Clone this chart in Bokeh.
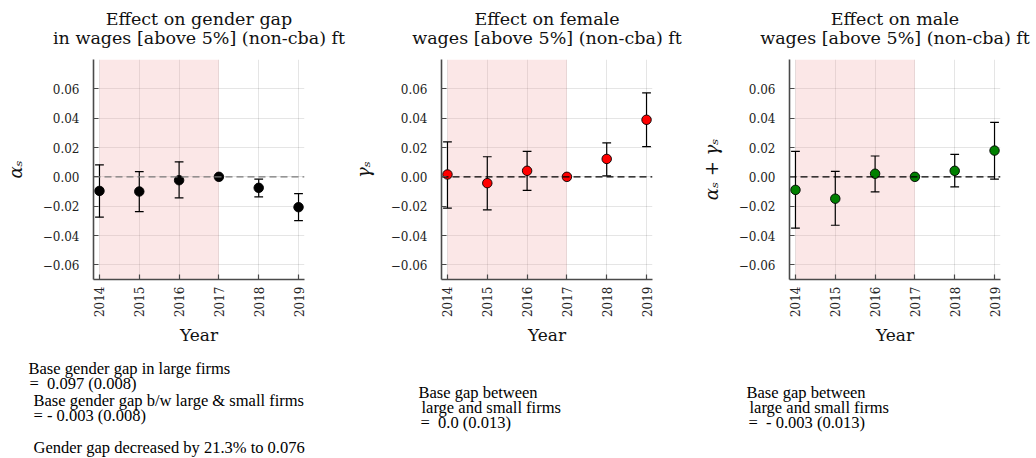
import numpy as np
from bokeh.plotting import figure
from bokeh.layouts import row, column
from bokeh.models import BoxAnnotation, Span, FixedTicker
from bokeh.core.properties import value
from bokeh.embed import file_html
from bokeh.resources import INLINE

# ---------------- data ----------------
years = [2014, 2015, 2016, 2017, 2018, 2019]

gap_est = [-0.0096, -0.0100, -0.0023, 0.0, -0.0075, -0.0207]
gap_lo = [-0.0275, -0.0237, -0.0143, 0.0, -0.0136, -0.0298]
gap_hi = [0.0082, 0.0036, 0.0102, 0.0, -0.0016, -0.0114]

fem_est = [0.0016, -0.0043, 0.0041, 0.0, 0.0122, 0.0389]
fem_lo = [-0.0213, -0.0225, -0.0092, 0.0, 0.0007, 0.0206]
fem_hi = [0.0238, 0.0137, 0.0174, 0.0, 0.0231, 0.0572]

male_est = [-0.0089, -0.0149, 0.0021, 0.0, 0.0041, 0.0179]
male_lo = [-0.0350, -0.0330, -0.0103, 0.0, -0.0069, -0.0016]
male_hi = [0.0174, 0.0037, 0.0142, 0.0, 0.0153, 0.0371]

y_ticks = [-0.06, -0.04, -0.02, 0.0, 0.02, 0.04, 0.06]
y_tick_labels = ["\u22120.06", "\u22120.04", "\u22120.02", "0.00", "0.02", "0.04", "0.06"]

titles = [
    ["Effect on gender gap", "in wages [above 5%] (non-cba) ft"],
    ["Effect on female", "wages [above 5%] (non-cba) ft"],
    ["Effect on male", "wages [above 5%] (non-cba) ft"],
]
ylabels = ["\u03b1\u209b", "\u03b3\u209b", "\u03b1\u209b + \u03b3\u209b"]

# note text, with (x, y) page-pixel anchors of each line
notes = [
    [("Base gender gap in large firms", 28, 368),
     ("=\u00a0 0.097 (0.008)", 29, 383),
     ("Base gender gap b/w large & small firms", 33, 400),
     ("= - 0.003 (0.008)", 33, 415),
     ("Gender gap decreased by 21.3% to 0.076", 33, 447)],
    [("Base gap between", 418, 392),
     ("large and small firms", 421, 407),
     ("=\u00a0 0.0 (0.013)", 420, 422)],
    [("Base gap between", 746, 392),
     ("large and small firms", 749, 407),
     ("=\u00a0 - 0.003 (0.013)", 748, 422)],
]

series = [
    (gap_est, gap_lo, gap_hi, "black", "#7a7a7a"),
    (fem_est, fem_lo, fem_hi, "#ff0000", "black"),
    (male_est, male_lo, male_hi, "#008000", "black"),
]

# ---------------- layout constants ----------------
X0, X1 = 2013.85, 2019.15
Y0, Y1 = -0.07, 0.08
FL, FW, FH = 93, 211, 220
TOP_H = 51          # title strip height
PT = 8              # panel top border  (frame top at 59)
PH = 305            # panel figure height
NH = 458 - TOP_H - PH
widths = [348, 348, 340]
offsets = [0, 348, 696]

SERIF = "DejaVu Serif"


def text_fig(W, Hh):
    f = figure(width=W, height=Hh, x_range=(0, W), y_range=(Hh, 0),
               output_backend="svg", toolbar_location=None, min_border=0,
               x_axis_location=None, y_axis_location=None, title_location=None)
    f.outline_line_color = None
    f.grid.visible = False
    f.background_fill_color = "white"
    f.border_fill_color = "white"
    return f


title_figs, panel_figs, note_figs = [], [], []
for i in range(3):
    est, lo, hi, col, dash_col = series[i]
    W = widths[i]

    # ---- title strip ----
    tf = text_fig(W, TOP_H)
    tf.text(x=[FL + FW / 2, FL + FW / 2], y=[18, 37], text=titles[i],
            text_align="center", text_baseline="middle",
            text_font=value(SERIF), text_font_size="17.5px", text_color="#111111")
    title_figs.append(tf)

    # ---- panel ----
    p = figure(width=W, height=PH, x_range=(X0, X1), y_range=(Y0, Y1),
               output_backend="svg", toolbar_location=None, title_location=None,
               min_border_left=FL, min_border_right=W - FL - FW,
               min_border_top=PT, min_border_bottom=PH - PT - FH)
    p.outline_line_color = None
    p.background_fill_color = "white"
    p.border_fill_color = "white"

    p.add_layout(BoxAnnotation(left=2014, right=2017, fill_color="#f0a0a0",
                               fill_alpha=0.25, line_color=None, level="underlay"))

    p.xgrid.ticker = FixedTicker(ticks=years)
    p.ygrid.ticker = FixedTicker(ticks=y_ticks)
    p.grid.grid_line_color = "#000000"
    p.grid.grid_line_alpha = 0.1
    p.grid.grid_line_width = 1

    for ax in (p.xaxis[0], p.yaxis[0]):
        ax.axis_line_color = "#4a4a4a"
        ax.axis_line_width = 1.6
        ax.major_tick_line_color = "#4a4a4a"
        ax.major_tick_line_width = 1.2
        ax.major_tick_in = 5
        ax.major_tick_out = 0
        ax.minor_tick_line_color = None
        ax.major_label_text_font = SERIF
        ax.major_label_text_font_size = "12px"
        ax.major_label_text_color = "#222222"
        ax.axis_label_text_font = SERIF
        ax.axis_label_text_font_style = "normal"
        ax.axis_label_text_color = "#111111"

    p.xaxis.ticker = FixedTicker(ticks=years)
    p.xaxis.major_label_orientation = np.pi / 2
    p.xaxis.major_label_standoff = 7
    p.xaxis.axis_label = "Year"
    p.xaxis.axis_label_text_font_size = "17px"
    p.xaxis.axis_label_standoff = 5

    p.yaxis.ticker = FixedTicker(ticks=y_ticks)
    p.yaxis.major_label_overrides = {t: s for t, s in zip(y_ticks, y_tick_labels)}
    p.yaxis.major_label_standoff = 14
    p.yaxis.axis_label = ylabels[i]
    p.yaxis.axis_label_text_font_size = "18px"
    p.yaxis.axis_label_text_font_style = "italic"
    p.yaxis.axis_label_standoff = 14

    p.add_layout(Span(location=0, dimension="width", line_color=dash_col,
                      line_dash="7 4", line_width=1.3, level="glyph"))

    idx = [k for k in range(len(years)) if hi[k] != lo[k]]
    bx = [years[k] for k in idx]
    blo = [lo[k] for k in idx]
    bhi = [hi[k] for k in idx]
    cap = 0.11
    p.segment(x0=bx, y0=blo, x1=bx, y1=bhi, line_color="black", line_width=1.2)
    p.segment(x0=[x - cap for x in bx], y0=bhi, x1=[x + cap for x in bx], y1=bhi,
              line_color="black", line_width=1.2)
    p.segment(x0=[x - cap for x in bx], y0=blo, x1=[x + cap for x in bx], y1=blo,
              line_color="black", line_width=1.2)

    p.scatter(x=years, y=est, size=9.5, fill_color=col, line_color="black",
              line_width=0.9)
    panel_figs.append(p)

    # ---- notes strip ----
    nf = text_fig(W, NH)
    y_top = TOP_H + PH
    nf.text(x=[n[1] - offsets[i] for n in notes[i]],
            y=[n[2] - y_top for n in notes[i]],
            text=[n[0] for n in notes[i]],
            text_align="left", text_baseline="middle",
            text_font=value("Liberation Serif"), text_font_size="16.5px",
            text_color="black")
    note_figs.append(nf)

layout = column(row(*title_figs), row(*panel_figs), row(*note_figs))
open("out.html", "w").write(file_html(layout, INLINE))
